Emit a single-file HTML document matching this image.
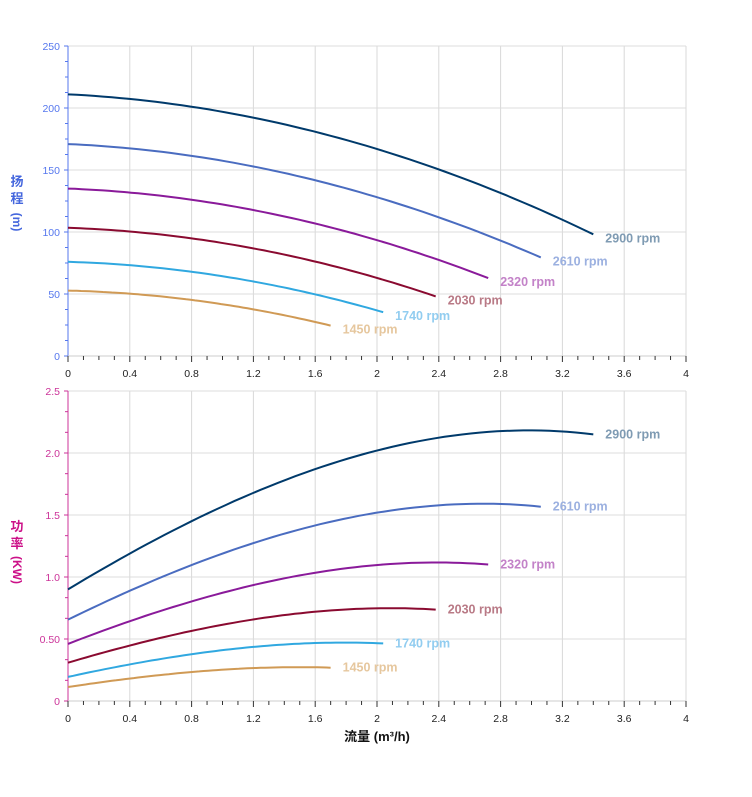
<!DOCTYPE html>
<html><head><meta charset="utf-8"><style>
body{margin:0;background:#fff;}
svg{display:block;font-family:"Liberation Sans","Noto Sans CJK SC",sans-serif;}
</style></head><body>
<svg id="s" width="752" height="797" xmlns="http://www.w3.org/2000/svg"></svg>
<script>
const s=document.getElementById('s');
let h='';
const X0=68,SX=154.5;
const px=q=>X0+q*SX;
const T0=356,TS=1.24; const ty=v=>T0-v*TS;
const B0=701,BS=124; const by=v=>B0-v*BS;
function grid(y0,y1,ys,vals,col,fmt,sub){
  for(let i=0;i<=10;i++){const x=px(i*0.4);h+=`<line x1="${x}" y1="${y1}" x2="${x}" y2="${y0}" stroke="#d8d8d8" stroke-width="1"/>`;}
  vals.forEach(v=>{const y=ys(v);h+=`<line x1="${X0}" y1="${y}" x2="${px(4)}" y2="${y}" stroke="#dcdcdc" stroke-width="1"/>`;
   h+=`<line x1="${X0-4}" y1="${y}" x2="${X0}" y2="${y}" stroke="${col}" stroke-width="1"/>`;
   h+=`<text x="${X0-8}" y="${y+4}" font-size="10.5" fill="${col}" text-anchor="end">${fmt(v)}</text>`;});
  for(let i=0;i<vals.length-1;i++){for(let k=1;k<sub;k++){const y=ys(vals[i]+(vals[i+1]-vals[i])*k/sub);h+=`<line x1="${X0-3}" y1="${y}" x2="${X0}" y2="${y}" stroke="${col}" stroke-width="1"/>`;}}
  h+=`<line x1="${X0}" y1="${y1}" x2="${X0}" y2="${y0}" stroke="${col}" stroke-width="1"/>`;
  h+=`<line x1="${X0}" y1="${y0}" x2="${px(4)}" y2="${y0}" stroke="#ccc" stroke-width="1"/>`;
  for(let i=0;i<=40;i++){const x=px(i*0.1);h+=`<line x1="${x}" y1="${y0}" x2="${x}" y2="${y0+(i%4==0?6:4)}" stroke="#333" stroke-width="1"/>`;}
  for(let i=0;i<=10;i++){const q=i*0.4;const t=q==0?'0':(Number.isInteger(q)?String(q):q.toFixed(1));h+=`<text x="${px(q)}" y="${y0+21}" font-size="10.5" fill="#222" text-anchor="middle">${t}</text>`;}
}
grid(T0,46,ty,[0,50,100,150,200,250],'#5577ee',v=>v,4);
grid(B0,391,by,[0,0.5,1,1.5,2,2.5],'#cc3399',v=>v==0?'0':(v==0.5?'0.50':v.toFixed(1)),3);
const sp=[[2900,'#003a6b','#7f9bb3'],[2610,'#4a6cc0','#9bb0e0'],[2320,'#8a1a9a','#c382c8'],[2030,'#8a0a30','#b97a86'],[1740,'#30a8e0','#92cdf0'],[1450,'#d09a55','#e6c79e']];
const P=q=>0.9+0.7533*q-0.0727*q*q-0.01198*q*q*q;
sp.forEach(([n,c,lc])=>{const r=n/2900;const qe=3.4*r;let a='',b='';
  for(let i=0;i<=60;i++){const q=qe*i/60;const hv=r*r*211-6.1*r*q-7.97*q*q;const pv=r*r*r*P(q/r);
    a+=(i?'L':'M')+px(q).toFixed(1)+','+ty(hv).toFixed(1);b+=(i?'L':'M')+px(q).toFixed(1)+','+by(pv).toFixed(1);}
  h+=`<path d="${a}" fill="none" stroke="${c}" stroke-width="2"/><path d="${b}" fill="none" stroke="${c}" stroke-width="2"/>`;
  const he=r*r*211-6.1*r*qe-7.97*qe*qe, pe=r*r*r*P(3.4);
  h+=`<text x="${px(qe)+12}" y="${ty(he)+8}" font-size="12.5" font-weight="bold" fill="${lc}">${n} rpm</text>`;
  h+=`<text x="${px(qe)+12}" y="${by(pe)+4}" font-size="12.5" font-weight="bold" fill="${lc}">${n} rpm</text>`;
});
h+=`<text x="17" y="186" font-size="13" font-weight="bold" fill="#4466dd" text-anchor="middle">扬</text><text x="17" y="203" font-size="13" font-weight="bold" fill="#4466dd" text-anchor="middle">程</text><text transform="translate(13,222) rotate(90)" font-size="12" font-weight="bold" fill="#4466dd" text-anchor="middle">(m)</text>`;
h+=`<text x="17" y="531" font-size="13" font-weight="bold" fill="#cc1188" text-anchor="middle">功</text><text x="17" y="548" font-size="13" font-weight="bold" fill="#cc1188" text-anchor="middle">率</text><text transform="translate(13,570) rotate(90)" font-size="12" font-weight="bold" fill="#cc1188" text-anchor="middle">(KW)</text>`;
h+=`<text x="377" y="741" font-size="13" font-weight="bold" fill="#111" text-anchor="middle">流量 (m³/h)</text>`;
s.innerHTML=h;
</script>
</body></html>
